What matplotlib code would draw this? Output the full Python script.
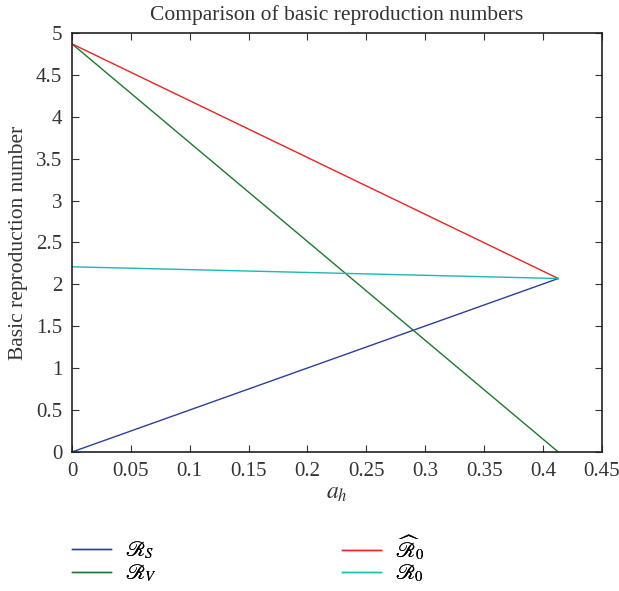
import matplotlib
matplotlib.use("Agg")
import matplotlib.pyplot as plt
import numpy as np

# parameter a_h and the four reproduction numbers
a_h = [0.0, 0.413]
r_s = [0.0, 2.07]
r_v = [4.87, 0.0]
r_hat = [4.87, 2.07]
r_0 = [2.21, 2.07]

x_ticks = [0, 0.05, 0.1, 0.15, 0.2, 0.25, 0.3, 0.35, 0.4, 0.45]
x_labels = ["0", "0.05", "0.1", "0.15", "0.2", "0.25", "0.3", "0.35", "0.4", "0.45"]
y_ticks = [0, 0.5, 1, 1.5, 2, 2.5, 3, 3.5, 4, 4.5, 5]
y_labels = ["0", "0.5", "1", "1.5", "2", "2.5", "3", "3.5", "4", "4.5", "5"]

plt.rcParams["font.family"] = ["Liberation Serif", "DejaVu Serif"]
plt.rcParams["mathtext.fontset"] = "stix"

fig = plt.figure(figsize=(6.19, 5.91), dpi=100)
ax = fig.add_axes([0.1163, 0.2352, 0.856, 0.709])

l1, = ax.plot(a_h, r_s, color="#2b3fa0", lw=1.0)
l2, = ax.plot(a_h, r_v, color="#1a7a2c", lw=1.0)
l3, = ax.plot(a_h, r_hat, color="#f02020", lw=1.0)
l4, = ax.plot(a_h, r_0, color="#1ab8b8", lw=1.0)

ax.set_xlim(0, 0.45)
ax.set_ylim(0, 5)
ax.set_xticks(x_ticks)
ax.set_xticklabels(x_labels)
ax.set_yticks(y_ticks)
ax.set_yticklabels(y_labels)
ax.tick_params(direction="in", top=True, right=True, labelsize=15, length=5,
               pad=7, color="#333333", labelcolor="#333333")
for s in ax.spines.values():
    s.set_color("#222222")
    s.set_linewidth(1.2)

ax.set_title("Comparison of basic reproduction numbers", fontsize=15.5, color="#333333", pad=9)
ax.set_xlabel(r"$a_h$", fontsize=17, color="#333333", labelpad=2)
ax.set_ylabel("Basic reproduction number", fontsize=15.5, color="#333333", labelpad=6)

# one legend per entry so the two columns line up row by row
leg_kw = dict(loc="center left", frameon=False, fontsize=15, handlelength=1.85,
              handletextpad=0.7, borderpad=0, borderaxespad=0)
entries = [
    (l1, r"$\mathscr{R}_S$", 72, 550),
    (l2, r"$\mathscr{R}_V$", 72, 573),
    (l3, r"$\widehat{\mathscr{R}}_0$", 342, 548),
    (l4, r"$\mathscr{R}_0$", 342, 573),
]
for line, label, px, py in entries:
    leg = fig.legend([line], [label], bbox_to_anchor=(px / 619, 1 - py / 591), **leg_kw)
    fig.add_artist(leg)

fig.savefig("out.png", dpi=100)
